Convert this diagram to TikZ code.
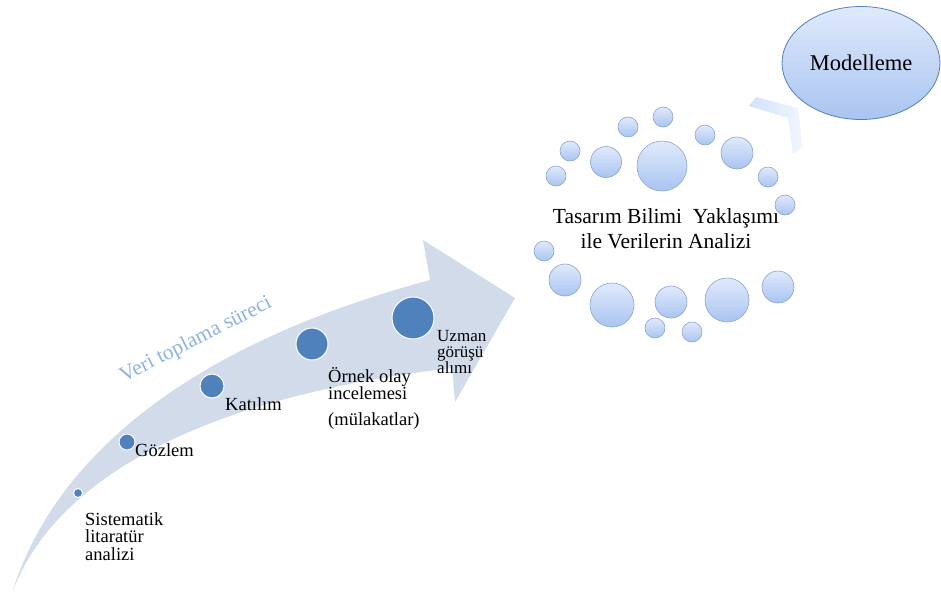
\documentclass[tikz,border=0pt]{standalone}
\usepackage{fontspec}
\setmainfont{Liberation Serif}
\usetikzlibrary{shapes.geometric}
\definecolor{bandcol}{HTML}{D2DBEA}
\definecolor{dotcol}{HTML}{4F81BD}
\definecolor{titlecol}{HTML}{8DB3E2}
\definecolor{ballrim}{HTML}{8AA3CC}
\definecolor{balltop}{HTML}{E0EAFC}
\definecolor{ballbot}{HTML}{A9C4F0}
\tikzset{
  stagedot/.style={circle, fill=dotcol, draw=white, line width=1pt, inner sep=0pt, minimum size=#1},
  stagelabel/.style={inner sep=0pt, align=left, font=\fontsize{18.5}{17.5}\selectfont},
  bubble/.style={circle, inner sep=0pt, minimum size=#1, top color=balltop, bottom color=ballbot, draw=ballrim, line width=0.6pt},
}
\begin{document}
\begin{tikzpicture}[x=1pt,y=-1pt]
\useasboundingbox (0,0) rectangle (941,597);

% curved process arrow
\fill[bandcol] (12,593) .. controls (50,470) and (170,350) .. (430,280)
  -- (423,240) -- (515,298) -- (455,402) -- (452,368)
  .. controls (180,400) and (50,490) .. (12,593) -- cycle;

\node[rotate=27, text=titlecol, font=\fontsize{21.5}{21.5}\selectfont, inner sep=0pt] (title) at (196,340) {Veri toplama süreci};

% stages along the arrow
\node[stagedot=9pt]  (d1) at (78,493) {};
\node[stagedot=16pt] (d2) at (127,442) {};
\node[stagedot=24pt] (d3) at (212,386) {};
\node[stagedot=32pt] (d4) at (312,344) {};
\node[stagedot=42pt] (d5) at (413,318) {};

\node[stagelabel, anchor=north west] (l1) at (85,512) {Sistematik\\litaratür\\analizi};
\node[stagelabel, anchor=base west] (l2) at (135,456) {Gözlem};
\node[stagelabel, anchor=base west] (l3) at (225,410) {Katılım};
\node[stagelabel, anchor=north west] (l4) at (328,367) {Örnek olay\\incelemesi};
\node[stagelabel, anchor=base west] (l4b) at (328,425) {(mülakatlar)};
\node[stagelabel, anchor=north west, font=\fontsize{17}{16}\selectfont] (l5) at (437,330) {Uzman\\görüşü\\alımı};

% ring of bubbles around the analysis step
\foreach \i/\x/\y/\r in {1/570/151/20, 2/556/176/20, 3/606/162/31, 4/628/127/20,
  5/663/117/20, 6/662/166/50, 7/705/135/20, 8/737/153/32, 9/768/177/20,
  10/785/205/20, 11/544/251/20, 12/565/280/32, 13/612/305/44, 14/671/302/32,
  15/727/300/44, 16/778/287/32, 17/655/328/20, 18/692/332/20}
  \node[bubble=\r pt] (b\i) at (\x,\y) {};

\node[align=center, inner sep=0pt, font=\fontsize{21.5}{25}\selectfont] (analysis) at (666,229)
  {Tasarım Bilimi\ \ Yaklaşımı\\ile Verilerin Analizi};

% chevron toward the modelling step
\shade[left color=balltop!75!ballbot, right color=balltop!40!white]
  (749,106) -- (756,97) -- (798,108) -- (803,147) -- (793,154) -- (788,118) -- cycle;

\node[ellipse, minimum width=158pt, minimum height=113pt, inner sep=0pt,
  top color=balltop, bottom color=ballbot, draw=dotcol, line width=0.8pt,
  font=\fontsize{22.5}{22.5}\selectfont] (model) at (861,63) {Modelleme};
\end{tikzpicture}
\end{document}
